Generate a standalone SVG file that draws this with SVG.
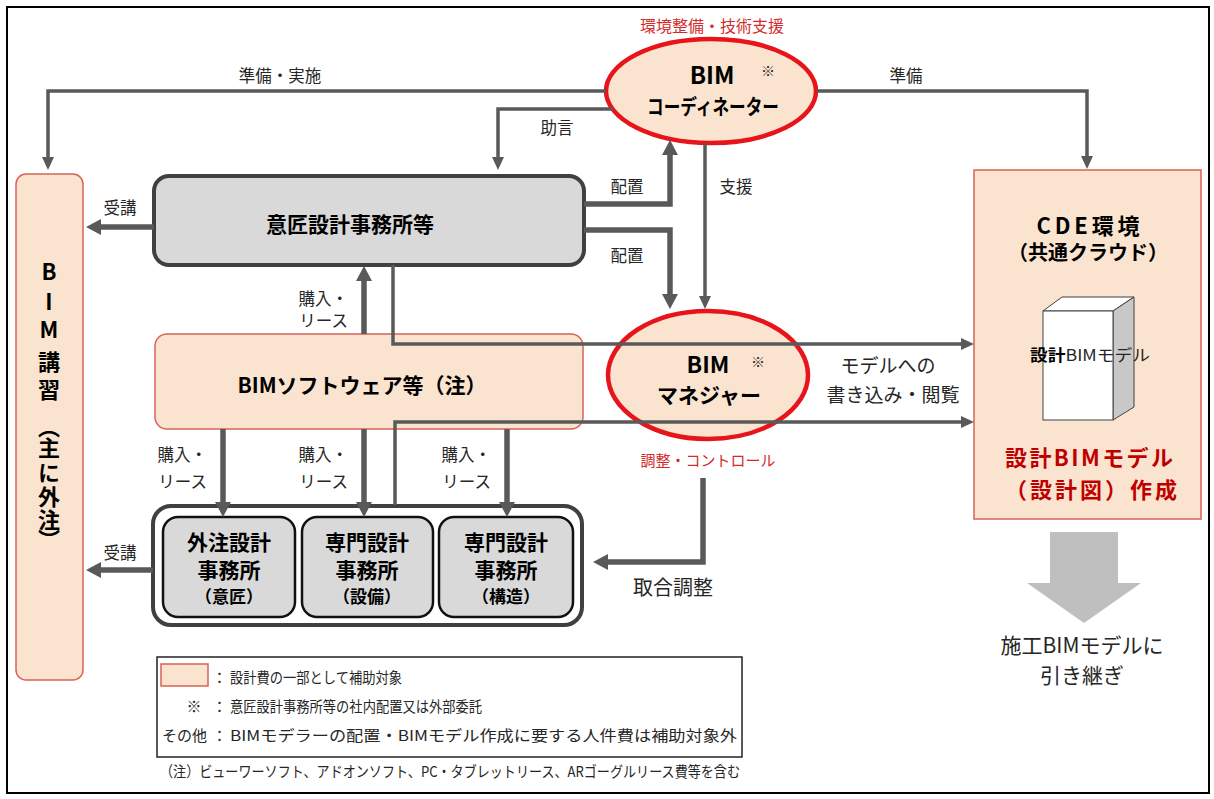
<svg xmlns="http://www.w3.org/2000/svg" width="1214" height="799" viewBox="0 0 1214 799">
<style>
text{font-family:'Noto Sans CJK JP','Noto Sans',sans-serif;fill:#262626}
.b{font-weight:bold;fill:#000}
.lbl{font-size:16.5px}
.red{fill:#D42A2A}
.dred{fill:#C00000;font-weight:bold}
.peach{fill:#FBE4CF;stroke:#D9625A;stroke-width:1.5}
.oval{fill:#FBE4CF;stroke:#E8141B;stroke-width:4.5}
.gbox{fill:#D9D9D9;stroke:#111;stroke-width:2.5}
.ln{fill:none;stroke:#595959;stroke-width:3.5}
.lnb{fill:none;stroke:#595959;stroke-width:5.5}
.lg{font-size:15px}
</style>
<defs>
<marker id="ah" markerUnits="userSpaceOnUse" viewBox="0 0 13 12" markerWidth="13" markerHeight="12" refX="1" refY="6" orient="auto"><path d="M0,0 L13,6 L0,12 z" fill="#595959"/></marker>
<marker id="ahb" markerUnits="userSpaceOnUse" viewBox="0 0 15 16" markerWidth="15" markerHeight="16" refX="1" refY="8" orient="auto"><path d="M0,0 L15,8 L0,16 z" fill="#595959"/></marker>
</defs>
<rect x="0" y="0" width="1214" height="799" fill="#fff"/>
<rect x="7" y="7" width="1202" height="786" fill="none" stroke="#000" stroke-width="2"/>

<g id="coordinator">
<text x="712" y="32" class="red" font-size="16" text-anchor="middle">環境整備・技術支援</text>
<ellipse cx="711" cy="91" rx="105" ry="52" class="oval"/>
<text x="712" y="84" class="b" font-size="24" text-anchor="middle">BIM</text>
<text x="768" y="76" font-size="14" fill="#000" text-anchor="middle">※</text>
<text x="713" y="114" class="b" font-size="21" text-anchor="middle" textLength="132" lengthAdjust="spacingAndGlyphs">コーディネーター</text>
</g>

<g id="bim-course">
<rect x="16" y="174" width="67" height="506" rx="10" class="peach"/>
<text x="49" y="261 291 319 351 379 416 437 462 486 509 529" class="b" font-size="22" style="writing-mode:vertical-rl;text-orientation:upright">BIM講習（主に外注）</text>
</g>

<g id="isho">
<rect x="154" y="176" width="430" height="89" rx="15" fill="#D9D9D9" stroke="#404040" stroke-width="4"/>
<text x="350" y="232" class="b" font-size="21" text-anchor="middle">意匠設計事務所等</text>
</g>

<g id="software">
<rect x="155" y="334" width="428" height="95" rx="12" class="peach"/>
<text x="362" y="393" class="b" font-size="21" text-anchor="middle">BIMソフトウェア等（注）</text>
</g>

<g id="manager">
<ellipse cx="708" cy="375" rx="100" ry="64" class="oval"/>
<text x="708" y="373" class="b" font-size="23" text-anchor="middle">BIM</text>
<text x="758" y="367" font-size="14" fill="#000" text-anchor="middle">※</text>
<text x="709" y="403" class="b" font-size="21" text-anchor="middle">マネジャー</text>
<text x="708" y="466" class="red" font-size="15" text-anchor="middle">調整・コントロール</text>
</g>

<g id="offices">
<rect x="153" y="506" width="429" height="119" rx="18" fill="#fff" stroke="#404040" stroke-width="4"/>
<g id="office-isho">
<rect x="163" y="517" width="132" height="100" rx="15" class="gbox"/>
<text x="229" y="550" class="b" font-size="21" text-anchor="middle">外注設計</text>
<text x="229" y="578" class="b" font-size="21" text-anchor="middle">事務所</text>
<text x="229" y="603" class="b" font-size="17" text-anchor="middle">（意匠）</text>
</g>
<g id="office-setsubi">
<rect x="302" y="517" width="131" height="100" rx="15" class="gbox"/>
<text x="367" y="550" class="b" font-size="21" text-anchor="middle">専門設計</text>
<text x="367" y="578" class="b" font-size="21" text-anchor="middle">事務所</text>
<text x="367" y="603" class="b" font-size="17" text-anchor="middle">（設備）</text>
</g>
<g id="office-kozo">
<rect x="439" y="517" width="134" height="100" rx="15" class="gbox"/>
<text x="506" y="550" class="b" font-size="21" text-anchor="middle">専門設計</text>
<text x="506" y="578" class="b" font-size="21" text-anchor="middle">事務所</text>
<text x="506" y="603" class="b" font-size="17" text-anchor="middle">（構造）</text>
</g>
</g>

<g id="cde">
<rect x="974" y="170" width="227" height="349" class="peach"/>
<text x="1088" y="234" class="b" font-size="22" text-anchor="middle" textLength="103">CDE環境</text>
<text x="1088" y="260" class="b" font-size="20" text-anchor="middle">（共通クラウド）</text>
<g id="cube">
<polygon points="1043,311 1062,297 1134,297 1113,311" fill="#fff" stroke="#404040" stroke-width="1"/>
<polygon points="1113,311 1134,297 1134,407 1113,420" fill="#C8C8C8" stroke="#404040" stroke-width="1"/>
<rect x="1043" y="311" width="70" height="109" fill="#fff" stroke="#404040" stroke-width="1"/>
<text x="1030" y="361" font-size="16" textLength="120" lengthAdjust="spacingAndGlyphs" fill="#222"><tspan font-weight="bold" fill="#000">設計</tspan>BIMモデル</text>
</g>
<text x="1089" y="466" class="dred" font-size="22" text-anchor="middle" textLength="168">設計BIMモデル</text>
<text x="1091" y="498" class="dred" font-size="22" text-anchor="middle" textLength="172">（設計図）作成</text>
</g>

<g id="handover">
<polygon points="1050,532 1118,532 1118,583 1141,583 1084,623 1027,583 1050,583" fill="#BFBFBF"/>
<text x="1082" y="653" font-size="21" text-anchor="middle">施工BIMモデルに</text>
<text x="1082" y="683" font-size="21" text-anchor="middle">引き継ぎ</text>
</g>

<g id="connectors">
<path d="M606,91 H48 V158" class="ln" marker-end="url(#ah)"/>
<path d="M817,91 H1087 V157" class="ln" marker-end="url(#ah)"/>
<path d="M613,109 H498 V158" class="ln" marker-end="url(#ah)"/>
<path d="M584,204 H670 V154" class="lnb" marker-end="url(#ahb)"/>
<path d="M705,143 V297" class="ln" marker-end="url(#ah)"/>
<path d="M584,230 H670 V295" class="lnb" marker-end="url(#ahb)"/>
<path d="M154,227 H100" class="lnb" marker-end="url(#ahb)"/>
<path d="M364,334 V280" class="lnb" marker-end="url(#ahb)"/>
<path d="M393,265 V344 H962" class="ln" marker-end="url(#ah)"/>
<path d="M395,505 V422 H962" class="ln" marker-end="url(#ah)"/>
<path d="M223,429 V503" class="lnb" marker-end="url(#ahb)"/>
<path d="M364,429 V503" class="lnb" marker-end="url(#ahb)"/>
<path d="M507,429 V503" class="lnb" marker-end="url(#ahb)"/>
<path d="M703,478 V562 H607" class="lnb" marker-end="url(#ahb)"/>
<path d="M153,570 H100" class="lnb" marker-end="url(#ahb)"/>
</g>

<g id="labels">
<text x="280" y="82" class="lbl" text-anchor="middle">準備・実施</text>
<text x="906" y="82" class="lbl" text-anchor="middle">準備</text>
<text x="557" y="134" class="lbl" text-anchor="middle">助言</text>
<text x="627" y="193" class="lbl" text-anchor="middle">配置</text>
<text x="627" y="262" class="lbl" text-anchor="middle">配置</text>
<text x="736" y="193" class="lbl" text-anchor="middle">支援</text>
<text x="120" y="214" class="lbl" text-anchor="middle">受講</text>
<text x="120" y="559" class="lbl" text-anchor="middle">受講</text>
<text x="348" y="305" class="lbl" text-anchor="end">購入・</text>
<text x="348" y="327" class="lbl" text-anchor="end">リース</text>
<text x="207" y="461" class="lbl" text-anchor="end">購入・</text>
<text x="207" y="488" class="lbl" text-anchor="end">リース</text>
<text x="348" y="461" class="lbl" text-anchor="end">購入・</text>
<text x="348" y="488" class="lbl" text-anchor="end">リース</text>
<text x="491" y="461" class="lbl" text-anchor="end">購入・</text>
<text x="491" y="488" class="lbl" text-anchor="end">リース</text>
<text x="888" y="373" font-size="19" text-anchor="middle">モデルへの</text>
<text x="893" y="402" font-size="19" text-anchor="middle">書き込み・閲覧</text>
<text x="673" y="595" font-size="20" text-anchor="middle">取合調整</text>
</g>

<g id="legend">
<rect x="157" y="657" width="585" height="100" fill="#fff" stroke="#222" stroke-width="1.5"/>
<rect x="161" y="664" width="47" height="22" class="peach"/>
<text x="212" y="683" class="lg">：</text>
<text x="230" y="683" class="lg" textLength="172" lengthAdjust="spacingAndGlyphs">設計費の一部として補助対象</text>
<text x="194" y="712" class="lg" text-anchor="middle">※</text>
<text x="212" y="712" class="lg">：</text>
<text x="230" y="712" class="lg" textLength="252" lengthAdjust="spacingAndGlyphs">意匠設計事務所等の社内配置又は外部委託</text>
<text x="207" y="741" class="lg" text-anchor="end">その他</text>
<text x="212" y="741" class="lg">：</text>
<text x="230" y="741" class="lg" textLength="507" lengthAdjust="spacingAndGlyphs">BIMモデラーの配置・BIMモデル作成に要する人件費は補助対象外</text>
<text x="160" y="777" class="lg" textLength="580" lengthAdjust="spacingAndGlyphs">（注）ビューワーソフト、アドオンソフト、PC・タブレットリース、ARゴーグルリース費等を含む</text>
</g>
</svg>
